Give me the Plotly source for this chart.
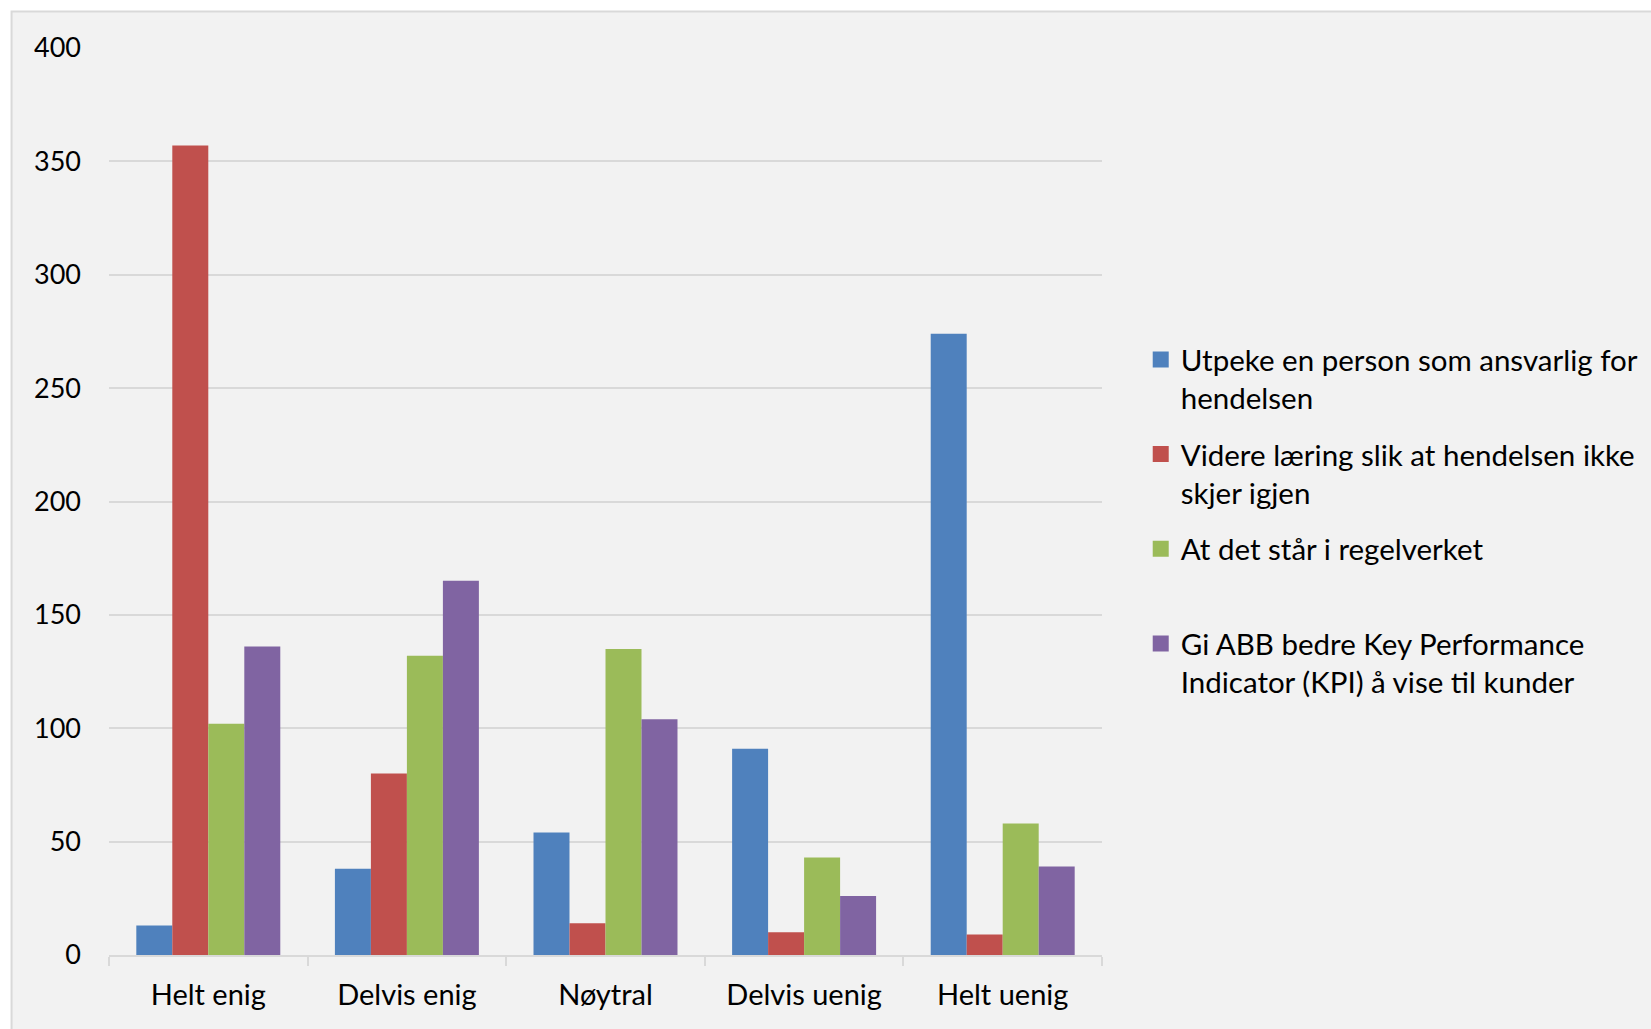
import plotly.graph_objects as go

categories = ["Helt enig", "Delvis enig", "Nøytral", "Delvis uenig", "Helt uenig"]
series_names = [
    "Utpeke en person som ansvarlig for<br>hendelsen",
    "Videre læring slik at hendelsen ikke<br>skjer igjen",
    "At det står i regelverket<br> ",
    "Gi ABB bedre Key Performance<br>Indicator (KPI) å vise til kunder",
]
utpeke = [13, 38, 54, 91, 274]
videre = [357, 80, 14, 10, 9]
regelverk = [102, 132, 135, 43, 58]
kpi = [136, 165, 104, 26, 39]
series_values = [utpeke, videre, regelverk, kpi]
colors = ["#4F81BD", "#C0504D", "#9BBB59", "#8064A2"]
y_ticks = [0, 50, 100, 150, 200, 250, 300, 350, 400]

FONT = "Lato"
W, H = 1651, 1029
L, R, T, B = 108.5, 549, 47.5, 74

fig = go.Figure()
for i, (name, vals, col) in enumerate(zip(series_names, series_values, colors)):
    fig.add_trace(go.Bar(
        x=categories, y=vals, name=name, marker_color=col,
        marker_line_width=0, showlegend=False,
    ))
# legend entries with square keys
for i, (name, col) in enumerate(zip(series_names, colors)):
    fig.add_trace(go.Scatter(
        x=[None], y=[None], mode="markers", name=name,
        marker=dict(symbol="square", size=16, color=col),
        legendgroup=f"g{i}", showlegend=True,
    ))

fig.update_layout(
    width=W, height=H,
    margin=dict(l=L, r=R, t=T, b=B, pad=0, autoexpand=False),
    paper_bgcolor="white",
    plot_bgcolor="rgba(0,0,0,0)",
    barmode="group", bargap=0.275, bargroupgap=0,
    font=dict(family=FONT, size=28, color="#000000"),
    legend=dict(
        x=1.039, xanchor="left", y=0.685, yanchor="top",
        font=dict(family=FONT, size=29.5, color="#000000"),
        valign="top", traceorder="grouped", tracegroupgap=15,
        itemsizing="trace",
        bgcolor="rgba(0,0,0,0)",
    ),
    showlegend=True,
)
fig.update_xaxes(
    showgrid=False, showline=True, linecolor="#D9D9D9", linewidth=2,
    ticks="outside", tickson="boundaries", ticklen=9, tickcolor="#D9D9D9", tickwidth=2,
    tickfont=dict(family=FONT, size=29), ticklabelstandoff=13,
)
fig.update_yaxes(
    range=[0, 400], tickvals=y_ticks, showgrid=True, gridcolor="#D9D9D9", gridwidth=2,
    showline=False, zeroline=False, ticks="", tickfont=dict(family=FONT, size=27),
    ticklabelstandoff=27,
)
# chart area background with thin border
fig.add_shape(
    type="rect", xref="paper", yref="paper",
    x0=(11 - L) / (W - L - R), x1=(W + 20 - L) / (W - L - R),
    y0=-(B + 20) / (H - T - B), y1=1 + (T - 11) / (H - T - B),
    fillcolor="#F2F2F2", line=dict(color="#D9D9D9", width=2), layer="below",
)
fig.write_html("out.html")
